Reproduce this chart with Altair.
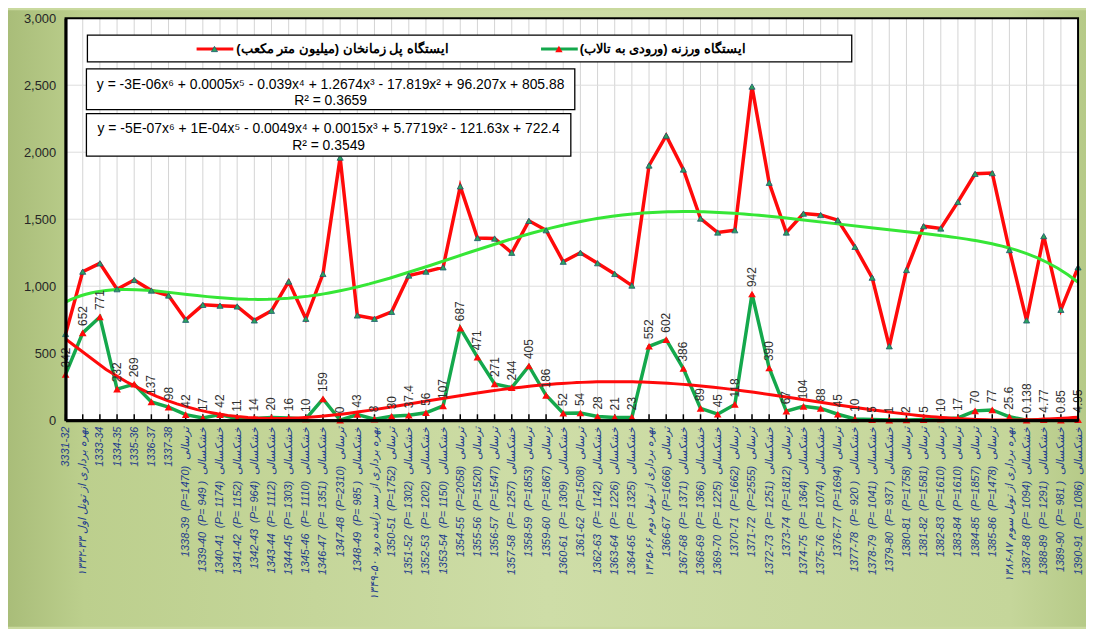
import json
import altair as alt
import pandas as pd

NB = "\u00a0"
RLM = "\u200f"
WET = "ترسالی"
DRY = "خشکسالی"

# ---- category labels -------------------------------------------------------
years = ["3331-32", "1332-33", "1333-34", "1334-35", "1335-36", "1336-37", "1337-38",
         "1338-39", "1339-40", "1340-41", "1341-42", "1342-43", "1343-44", "1344-45",
         "1345-46", "1346-47", "1347-48", "1348-49", "1349-50", "1350-51", "1351-52",
         "1352-53", "1353-54", "1354-55", "1355-56", "1356-57", "1357-58", "1358-59",
         "1359-60", "1360-61", "1361-62", "1362-63", "1363-64", "1364-65", "1365-66",
         "1366-67", "1367-68", "1368-69", "1369-70", "1370-71", "1371-72", "1372-73",
         "1373-74", "1374-75", "1375-76", "1376-77", "1377-78", "1378-79", "1379-80",
         "1380-81", "1381-82", "1382-83", "1383-84", "1384-85", "1385-86", "1386-87",
         "1387-88", "1388-89", "1389-90", "1390-91"]
precip = ["", "", "", "", "", "", "", "1470", " 949 ", " 1174", " 1152", " 964", " 1112",
          " 1303", " 1110", " 1351", "2310", " 985 ", "", "1752", " 1302", " 1202", " 1150",
          "2058", "1520", "1547", " 1257", "1853", "1867", " 1309", "1508", " 1142", " 1226",
          " 1325", "", "1666", " 1371", " 1366", " 1225", "1662", "2555", " 1251", "1812",
          " 1364", " 1074", "1694", " 920 ", " 1041", " 937 ", "1758", "1581", "1610", "1610",
          "1857", "1478", "", " 1094", " 1291", " 981 ", " 1086"]
kind = ["", "", "", "", "", "", "", "w", "d", "d", "d", "d", "d", "d", "d", "d", "w", "d", "",
        "w", "d", "d", "d", "w", "w", "w", "d", "w", "w", "d", "w", "d", "d", "d", "", "w", "d",
        "d", "d", "w", "w", "d", "w", "d", "d", "w", "d", "d", "d", "w", "w", "w", "w", "w", "w",
        "", "d", "d", "d", "d"]
special = {
    1: "۱۳۳۲-۳۳ بهره برداری از تونل اول",
    18: "۱۳۴۹-۵۰ بهره برداری از سد زاینده رود",
    34: "۱۳۶۵-۶۶ بهره برداری از تونل دوم",
    55: "۱۳۸۶-۸۷ بهره برداری از تونل سوم",
}

labels = []
for i, yr in enumerate(years):
    if i in special:
        labels.append(special[i])
    elif precip[i]:
        p = precip[i].replace(" ", NB)
        k = WET if kind[i] == "w" else DRY
        labels.append(f"{yr}{NB}{NB}(P={p}){NB}{NB}{k}")
    else:
        labels.append(yr)

# ---- series -----------------------------------------------------------------
zamankhan = [644, 1109, 1171, 978, 1047, 968, 931, 750, 861, 855, 849, 745, 817, 1035, 757,
             1092, 1960, 782, 757, 809, 1080, 1109, 1141, 1745, 1360, 1356, 1250, 1488, 1418,
             1183, 1250, 1172, 1092, 1005, 1901, 2124, 1871, 1505, 1401, 1418, 2490, 1772,
             1401, 1542, 1532, 1493, 1294, 1064, 552, 1121, 1448, 1431, 1629, 1839, 1844,
             1270, 745, 1374, 824, 1141]
varzaneh = [342, 652, 771, 232, 269, 137, 98, 42, 17, 42, 11, 14, 20, 16, 10, 159, 0, 43, 8,
            30, 37.4, 56, 107, 687, 471, 271, 244, 405, 186, 52, 54, 28, 21, 23, 552, 602,
            386, 89, 45, 118, 942, 390, 67, 104, 88, 45, 10, 5, 1, 2, 5, 10, 17, 70, 77, 25.6,
            0.138, 4.77, 0.85, 4.95]

y_ticks = [0, 500, 1000, 1500, 2000, 2500, 3000]
grid_y = [500, 1000, 1500, 2000, 2500]

legend_names = [RLM + "ایستگاه پل زمانخان (میلیون متر مکعب)" + RLM,
                RLM + "ایستگاه ورزنه (ورودی به تالاب)" + RLM]
eq1 = ["y = -3E-06x⁶ + 0.0005x⁵ - 0.039x⁴ + 1.2674x³ - 17.819x² + 96.207x + 805.88",
       "R² = 0.3659"]
eq2 = ["y = -5E-07x⁶ + 1E-04x⁵ - 0.0049x⁴ + 0.0015x³ + 5.7719x² - 121.63x + 722.4",
       "R² = 0.3549"]

RED = "#ff0a0a"
GREEN = "#14a84c"
LIME = "#36e636"
TRI_G = "#2ba35c"

W, H = 1020, 405
PAD = {"left": 58, "top": 8, "right": 8, "bottom": 208}

df = pd.DataFrame({"idx": list(range(len(labels))), "label": labels,
                   "zam": zamankhan, "varz": varzaneh})
df["vtxt"] = [f"{v:g}" for v in varzaneh]
gdf = pd.DataFrame({"g": grid_y})
dummy = pd.DataFrame({"d": [0]})

xscale = alt.Scale(domain=[0, len(labels) - 1], nice=False, zero=False)
yscale = alt.Scale(domain=[0, 3000], nice=False)
label_expr = json.dumps(labels, ensure_ascii=False) + "[datum.value]"

xaxis = alt.Axis(values=list(range(len(labels))), labelExpr=label_expr, labelAngle=-90,
                 labelFontSize=11, labelColor="#1f3d8c", labelFont="Liberation Sans",
                 labelFontStyle="italic", labelPadding=6, ticks=False, domainColor="black",
                 domainWidth=3, grid=False, title=None, labelOverlap=False, labelFlush=False,
                 labelLimit=300, zindex=1)
yaxis = alt.Axis(values=y_ticks, format=",.0f", labelFontSize=13, labelColor="#262626",
                 labelFont="Liberation Sans", labelPadding=10, ticks=False,
                 domainColor="black", domainWidth=3, grid=False, title=None,
                 labelFlush=False, zindex=1)


def X(field="idx"):
    return alt.X(f"{field}:Q", scale=xscale, axis=xaxis)


def Y(field):
    return alt.Y(f"{field}:Q", scale=yscale, axis=yaxis)


bg = alt.Chart(dummy).mark_rect(fill={
    "gradient": "linear", "x1": 0, "y1": 0, "x2": 1, "y2": 0,
    "stops": [{"offset": 0, "color": "#a9bd79"}, {"offset": 0.07, "color": "#bccf8d"},
              {"offset": 0.5, "color": "#cedda7"}, {"offset": 0.93, "color": "#c5d69a"},
              {"offset": 1, "color": "#b6ca88"}]}).encode(
    x=alt.value(-PAD["left"]), x2=alt.value(W + PAD["right"]),
    y=alt.value(-PAD["top"]), y2=alt.value(H + PAD["bottom"]))

plot_bg = alt.Chart(dummy).mark_rect(fill="white").encode(
    x=alt.value(0), x2=alt.value(W), y=alt.value(0), y2=alt.value(H))

vgrid = alt.Chart(df).mark_rule(color="#d4d4d4", strokeWidth=1).encode(x=X())
hgrid = alt.Chart(gdf).mark_rule(color="#dedede", strokeWidth=1).encode(y=Y("g"))
inner_ticks = alt.Chart(df).mark_rule(color="black", strokeWidth=1.5).encode(
    x=X(), y=alt.value(H - 6), y2=alt.value(H))

line_zam = alt.Chart(df).mark_line(color=RED, strokeWidth=3.5).encode(x=X(), y=Y("zam"))
line_varz = alt.Chart(df).mark_line(color=GREEN, strokeWidth=3.5).encode(x=X(), y=Y("varz"))

trend_zam = alt.Chart(df).transform_regression(
    "idx", "zam", method="poly", order=6).mark_line(color=LIME, strokeWidth=3).encode(
    x=X(), y=Y("zam"))
trend_varz = alt.Chart(df).transform_regression(
    "idx", "varz", method="poly", order=6).mark_line(color=RED, strokeWidth=3).encode(
    x=X(), y=Y("varz"))

pts_zam = alt.Chart(df).mark_point(shape="triangle-up", filled=True, fill=TRI_G,
                                   stroke="#1d5a70", strokeWidth=0.8, size=38,
                                   opacity=1).encode(x=X(), y=Y("zam"))
pts_varz = alt.Chart(df).mark_point(shape="triangle-up", filled=True, color=RED,
                                    size=60, opacity=1).encode(x=X(), y=Y("varz"))

val_labels = alt.Chart(df).mark_text(angle=270, align="left", baseline="middle", dx=7,
                                     fontSize=12, font="Liberation Sans",
                                     color="#303030").encode(
    x=X(), y=Y("varz"), text="vtxt:N")

frame = alt.Chart(dummy).mark_rect(fillOpacity=0, stroke="black", strokeWidth=2).encode(
    x=alt.value(0), x2=alt.value(W), y=alt.value(0), y2=alt.value(H))


def box(x1, x2, y1, y2):
    return alt.Chart(dummy).mark_rect(fill="white", stroke="black", strokeWidth=1.3).encode(
        x=alt.value(x1), x2=alt.value(x2), y=alt.value(y1), y2=alt.value(y2))


def txt(s, x, y, align="center", size=14):
    return alt.Chart(dummy).mark_text(align=align, baseline="middle", fontSize=size,
                                      font="Liberation Sans", color="black").encode(
        x=alt.value(x), y=alt.value(y), text=alt.value(s))


LY = 31
legend = [
    box(22, 792, 17, 44),
    alt.Chart(dummy).mark_rule(color=RED, strokeWidth=3).encode(
        x=alt.value(132), x2=alt.value(169), y=alt.value(LY)),
    alt.Chart(dummy).mark_point(shape="triangle-up", filled=True, fill=TRI_G,
                                stroke="#1d5a70", strokeWidth=0.8, size=38,
                                opacity=1).encode(x=alt.value(150), y=alt.value(LY)),
    alt.Chart(dummy).mark_text(align="left", baseline="middle", fontSize=13,
                               fontWeight="bold", color="black").encode(
        x=alt.value(172), y=alt.value(LY), text=alt.value(legend_names[0])),
    alt.Chart(dummy).mark_rule(color=GREEN, strokeWidth=3).encode(
        x=alt.value(479), x2=alt.value(516), y=alt.value(LY)),
    alt.Chart(dummy).mark_point(shape="triangle-up", filled=True, color=RED, size=55,
                                opacity=1).encode(x=alt.value(497), y=alt.value(LY)),
    alt.Chart(dummy).mark_text(align="left", baseline="middle", fontSize=13,
                               fontWeight="bold", color="black").encode(
        x=alt.value(518), y=alt.value(LY), text=alt.value(legend_names[1])),
]

eqs = [
    box(21, 513, 51, 92), txt(eq1[0], 267, 67), txt(eq1[1], 267, 83),
    box(21, 509, 96, 139), txt(eq2[0], 265, 112), txt(eq2[1], 265, 129),
]

chart = alt.layer(
    bg, plot_bg, vgrid, hgrid, inner_ticks,
    line_zam, line_varz, trend_zam, trend_varz,
    pts_zam, pts_varz, val_labels, frame,
    *legend, *eqs,
).properties(
    width=W, height=H, padding=PAD, autosize=alt.AutoSizeParams(type="none"),
    background="#c9d99e",
).configure_view(stroke=None)

chart.save("out.html", embed_options={"renderer": "svg", "actions": False})
